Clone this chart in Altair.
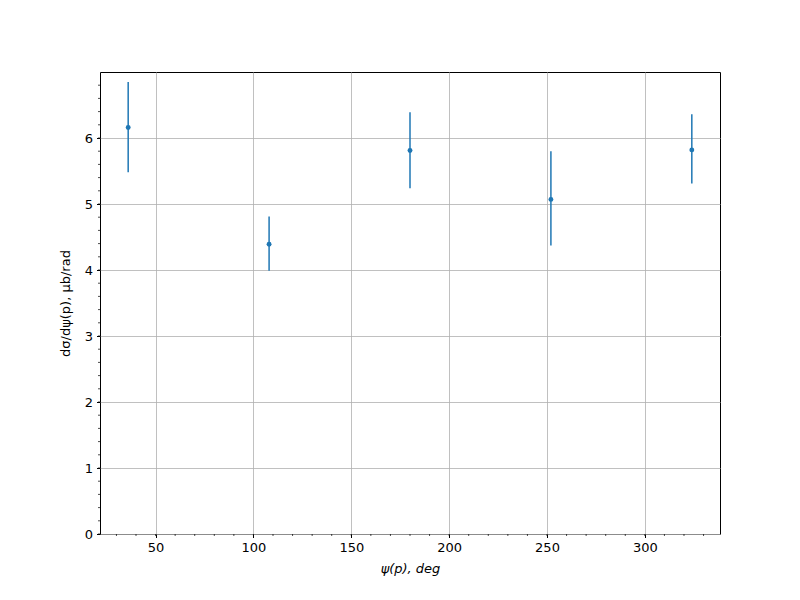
import altair as alt
import pandas as pd

psi = [36, 108, 180, 252, 324]
val = [6.16, 4.39, 5.81, 5.07, 5.82]
err_lo = [5.48, 3.99, 5.24, 4.37, 5.31]
err_hi = [6.85, 4.81, 6.39, 5.80, 6.36]

x_minor = list(range(30, 340, 10))
y_minor = [round(i * 0.2, 1) for i in range(0, 35)]

df = pd.DataFrame({"psi": psi, "val": val, "lo": err_lo, "hi": err_hi})
dfx = pd.DataFrame({"v": x_minor})
dfy = pd.DataFrame({"v": y_minor})

W, H = 620, 462
xs = alt.Scale(domain=[21.6, 338.4], nice=False, zero=False)
ys = alt.Scale(domain=[0, 7.0], nice=False, zero=False)

font = "DejaVu Sans"

xaxis = alt.Axis(values=[50, 100, 150, 200, 250, 300], format="d", grid=True, gridColor="#b0b0b0",
                 gridWidth=0.8, tickSize=3.5, tickColor="black", domain=False,
                 labelFont=font, labelFontSize=13, labelColor="black", labelPadding=4,
                 title="ψ(p), deg", titleFont=font, titleFontSize=13, titleFontStyle="italic",
                 titleFontWeight="normal", titleColor="black", titlePadding=8)
yaxis = alt.Axis(values=[0, 1, 2, 3, 4, 5, 6], format="d", grid=True, gridColor="#b0b0b0",
                 gridWidth=0.8, tickSize=3.5, tickColor="black", domain=False,
                 labelFont=font, labelFontSize=13, labelColor="black", labelPadding=4,
                 title="dσ/dψ(p), μb/rad", titleFont=font, titleFontSize=13,
                 titleFontWeight="normal", titleColor="black", titlePadding=12)

base = alt.Chart(df)

errs = base.mark_rule(color="#1f77b4", strokeWidth=1.5).encode(
    x=alt.X("psi:Q", scale=xs, axis=xaxis),
    y=alt.Y("lo:Q", scale=ys, axis=yaxis),
    y2="hi:Q",
)
pts = base.mark_circle(color="#1f77b4", size=24, opacity=1).encode(
    x=alt.X("psi:Q", scale=xs),
    y=alt.Y("val:Q", scale=ys),
)

xmin = alt.Chart(dfx).mark_rule(color="black", strokeWidth=0.7).encode(
    x=alt.X("v:Q", scale=xs),
    y=alt.value(H),
    y2=alt.value(H + 2),
)
ymin = alt.Chart(dfy).mark_rule(color="black", strokeWidth=0.7).encode(
    y=alt.Y("v:Q", scale=ys),
    x=alt.value(0),
    x2=alt.value(-2),
)

chart = alt.layer(errs, pts, xmin, ymin).properties(
    width=W, height=H,
    autosize=alt.AutoSizeParams(type="none"),
    padding={"left": 92, "top": 64, "right": 72, "bottom": 58},
).configure(background="white").configure_view(stroke="black", strokeWidth=1)

chart.save("out.html", embed_options={"renderer": "svg", "actions": False})
